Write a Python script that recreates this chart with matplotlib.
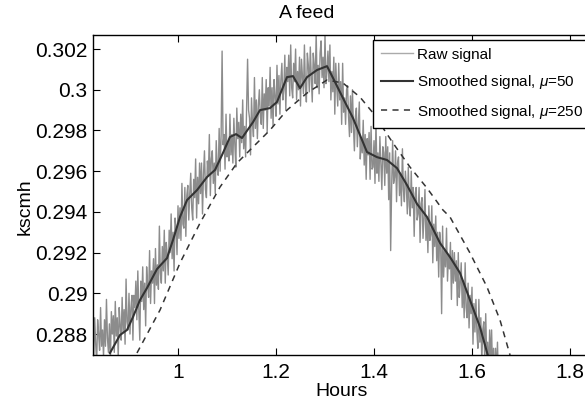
import numpy as np
import matplotlib
matplotlib.use("Agg")
import matplotlib.pyplot as plt

plt.rcParams['font.family'] = ['Liberation Sans', 'DejaVu Sans']
plt.rcParams['mathtext.fontset'] = 'custom'
plt.rcParams['mathtext.it'] = 'Liberation Sans:italic'
plt.rcParams['mathtext.rm'] = 'Liberation Sans'

# ---- data ----
raw_start, raw_step = 0.826, 0.002
raw_kscmh = [
    0.2883, 0.2869, 0.2888, 0.2875, 0.2866, 0.2887, 0.2880, 0.2872, 0.2893, 0.2874,
    0.2882, 0.2869, 0.2887, 0.2874, 0.2897, 0.2878, 0.2871, 0.2885, 0.2866, 0.2891,
    0.2880, 0.2889, 0.2871, 0.2896, 0.2879, 0.2888, 0.2868, 0.2893, 0.2884, 0.2877,
    0.2898, 0.2881, 0.2892, 0.2875, 0.2907, 0.2886, 0.2882, 0.2900, 0.2880, 0.2893,
    0.2899, 0.2877, 0.2899, 0.2893, 0.2906, 0.2887, 0.2911, 0.2892, 0.2877, 0.2906,
    0.2896, 0.2913, 0.2892, 0.2905, 0.2884, 0.2913, 0.2904, 0.2898, 0.2921, 0.2895,
    0.2911, 0.2905, 0.2917, 0.2895, 0.2922, 0.2904, 0.2914, 0.2902, 0.2933, 0.2910,
    0.2905, 0.2923, 0.2911, 0.2931, 0.2905, 0.2925, 0.2919, 0.2909, 0.2931, 0.2920,
    0.2939, 0.2917, 0.2930, 0.2911, 0.2937, 0.2932, 0.2919, 0.2943, 0.2927, 0.2942,
    0.2926, 0.2954, 0.2934, 0.2932, 0.2952, 0.2928, 0.2948, 0.2953, 0.2936, 0.2949,
    0.2959, 0.2942, 0.2936, 0.2956, 0.2947, 0.2966, 0.2937, 0.2957, 0.2944, 0.2964,
    0.2949, 0.2964, 0.2939, 0.2958, 0.2970, 0.2951, 0.2947, 0.2965, 0.2958, 0.2978,
    0.2948, 0.2966, 0.2970, 0.2954, 0.2964, 0.2949, 0.2975, 0.2961, 0.2958, 0.2981,
    0.2960, 0.2978, 0.3019, 0.2973, 0.2978, 0.2961, 0.2988, 0.2967, 0.2974, 0.2965,
    0.2988, 0.2968, 0.2978, 0.2964, 0.2986, 0.2973, 0.2962, 0.2991, 0.2976, 0.2984,
    0.2967, 0.2988, 0.2974, 0.2995, 0.2971, 0.2982, 0.2967, 0.2992, 0.3015, 0.2990,
    0.2986, 0.2968, 0.2996, 0.2984, 0.2977, 0.3006, 0.2981, 0.2995, 0.2976, 0.2992,
    0.3000, 0.2987, 0.2983, 0.3006, 0.2981, 0.2998, 0.2990, 0.3005, 0.2979, 0.3001,
    0.2992, 0.3011, 0.2986, 0.3001, 0.2982, 0.3005, 0.2997, 0.2987, 0.3012, 0.2993,
    0.3007, 0.2988, 0.3005, 0.3013, 0.2995, 0.3000, 0.3017, 0.2990, 0.3011, 0.3004,
    0.3017, 0.2997, 0.3022, 0.3001, 0.2996, 0.3013, 0.3004, 0.3020, 0.2995, 0.3009,
    0.3000, 0.3016, 0.2992, 0.3015, 0.3006, 0.2998, 0.3022, 0.3002, 0.2994, 0.3018,
    0.3012, 0.2999, 0.3021, 0.3006, 0.2994, 0.3018, 0.3012, 0.3003, 0.3028, 0.3001,
    0.3012, 0.2998, 0.3018, 0.3024, 0.3006, 0.3016, 0.3001, 0.3027, 0.3003, 0.3009,
    0.3019, 0.3004, 0.3022, 0.2995, 0.3009, 0.2999, 0.3016, 0.2988, 0.3013, 0.3001,
    0.2992, 0.3013, 0.2995, 0.3004, 0.2983, 0.3013, 0.2989, 0.2996, 0.2983, 0.3000,
    0.3002, 0.2987, 0.2977, 0.2997, 0.2979, 0.3000, 0.2982, 0.2970, 0.2987, 0.2991,
    0.2972, 0.2983, 0.2994, 0.2966, 0.2976, 0.2969, 0.2985, 0.2963, 0.2978, 0.2956,
    0.2976, 0.2968, 0.2979, 0.2956, 0.2982, 0.2961, 0.2962, 0.2975, 0.2954, 0.2985,
    0.2959, 0.2969, 0.2955, 0.2977, 0.2964, 0.2951, 0.2972, 0.2969, 0.2953, 0.2977,
    0.2959, 0.2972, 0.2946, 0.2969, 0.2921, 0.2952, 0.2975, 0.2954, 0.2957, 0.2970,
    0.2945, 0.2964, 0.2967, 0.2948, 0.2959, 0.2943, 0.2971, 0.2951, 0.2945, 0.2960,
    0.2953, 0.2939, 0.2962, 0.2943, 0.2938, 0.2960, 0.2942, 0.2952, 0.2928, 0.2949,
    0.2952, 0.2936, 0.2939, 0.2952, 0.2925, 0.2944, 0.2947, 0.2927, 0.2937, 0.2951,
    0.2926, 0.2937, 0.2920, 0.2943, 0.2926, 0.2929, 0.2943, 0.2915, 0.2934, 0.2923,
    0.2938, 0.2916, 0.2930, 0.2908, 0.2930, 0.2925, 0.2890, 0.2933, 0.2908, 0.2921,
    0.2913, 0.2932, 0.2906, 0.2919, 0.2912, 0.2925, 0.2897, 0.2921, 0.2905, 0.2920,
    0.2906, 0.2916, 0.2894, 0.2920, 0.2898, 0.2905, 0.2915, 0.2893, 0.2906, 0.2888,
    0.2915, 0.2893, 0.2888, 0.2905, 0.2883, 0.2899, 0.2890, 0.2903, 0.2875, 0.2895,
    0.2881, 0.2897, 0.2881, 0.2873, 0.2897, 0.2876, 0.2888, 0.2867, 0.2882, 0.2886,
    0.2867, 0.2890, 0.2868, 0.2876, 0.2860, 0.2882, 0.2867, 0.2882, 0.2861, 0.2873,
    0.2855, 0.2873, 0.2861, 0.2876, 0.2856,
]

smooth50_hours = [0.8612, 0.8816, 0.8959, 0.9082, 0.9224, 0.9367, 0.9571, 0.9776, 0.9898,
                  1.0041, 1.0184, 1.0388, 1.0592, 1.0755, 1.0898, 1.1061, 1.1184, 1.1306,
                  1.1531, 1.1673, 1.1878, 1.2020, 1.2224, 1.2347, 1.2490, 1.2633, 1.2837,
                  1.3041, 1.3163, 1.3367, 1.3571, 1.3857, 1.4061, 1.4265, 1.4469, 1.4673,
                  1.4878, 1.5082, 1.5347, 1.5551, 1.5755, 1.5959, 1.6163, 1.6265, 1.6327]
smooth50_kscmh = [0.28707, 0.28795, 0.28820, 0.28884, 0.28967, 0.29026, 0.29119, 0.29173, 0.29262,
                  0.29375, 0.29458, 0.29507, 0.29571, 0.29606, 0.29679, 0.29768, 0.29782, 0.29763,
                  0.29841, 0.29900, 0.29910, 0.29940, 0.30062, 0.30067, 0.30008, 0.30062, 0.30097,
                  0.30116, 0.30058, 0.29959, 0.29861, 0.29694, 0.29669, 0.29655, 0.29615, 0.29532,
                  0.29439, 0.29375, 0.29247, 0.29178, 0.29100, 0.28967, 0.28834, 0.28746, 0.28692]

smooth250_hours = [0.9163, 0.9633, 1.0041, 1.0449, 1.0857, 1.1204, 1.1531, 1.1878, 1.2224,
                   1.2633, 1.3041, 1.3367, 1.3714, 1.3980, 1.4388, 1.4735, 1.5082, 1.5408,
                   1.5551, 1.5959, 1.6306, 1.6571, 1.6776]
smooth250_kscmh = [0.28707, 0.28918, 0.29149, 0.29345, 0.29522, 0.29640, 0.29719, 0.29802, 0.29900,
                   0.29984, 0.30048, 0.30033, 0.29964, 0.29886, 0.29738, 0.29620, 0.29517, 0.29409,
                   0.29375, 0.29198, 0.29031, 0.28869, 0.28697]

x_ticks = [1.0, 1.2, 1.4, 1.6, 1.8]
x_tick_labels = ['1', '1.2', '1.4', '1.6', '1.8']
y_ticks = [0.288, 0.290, 0.292, 0.294, 0.296, 0.298, 0.300, 0.302]
y_tick_labels = ['0.288', '0.29', '0.292', '0.294', '0.296', '0.298', '0.3', '0.302']
legend_labels = ['Raw signal', r'Smoothed signal, $\mu$=50', r'Smoothed signal, $\mu$=250']

raw_hours = raw_start + raw_step * np.arange(len(raw_kscmh))

# ---- figure ----
W, H = 585, 404
fig = plt.figure(figsize=(W / 100, H / 100), dpi=100)
L, R, T, B = 93, 593, 35, 355
ax = fig.add_axes([L / W, (H - B) / H, (R - L) / W, (B - T) / H])

ax.plot(raw_hours, raw_kscmh, color='#8c8c8c', lw=1.0, label=legend_labels[0])
ax.plot(smooth50_hours, smooth50_kscmh, color='#333333', lw=1.5, label=legend_labels[1])
ax.plot(smooth250_hours, smooth250_kscmh, color='#333333', lw=1.1, ls=(0, (4, 3.5)),
        label=legend_labels[2])

ax.set_xlim(0.82653, 1.8 + (R - 570) / 490)
ax.set_ylim(0.28697, 0.30269)
ax.set_xticks(x_ticks)
ax.set_xticklabels(x_tick_labels)
ax.set_yticks(y_ticks)
ax.set_yticklabels(y_tick_labels)
ax.tick_params(direction='in', length=5, width=0.8, top=True, right=True,
               labelsize=15, pad=4, colors='black')
ax.tick_params(axis='x', pad=6)
for s in ax.spines.values():
    s.set_linewidth(1.0)
    s.set_color('black')

lx0 = (373 - L) / (R - L)
lx1 = (605 - L) / (R - L)
ly1 = (B - 40) / (B - T)
leg = ax.legend(loc='upper left', bbox_to_anchor=(lx0, ly1 - 0.3, lx1 - lx0, 0.3), mode='expand',
                borderaxespad=0, fontsize=11, frameon=True, fancybox=False, framealpha=1,
                edgecolor='black', labelspacing=0.75, handlelength=2.1, handletextpad=0.3,
                borderpad=0.5)
leg.get_frame().set_linewidth(1.0)
leg.get_lines()[0].set_color('#aaaaaa')

fig.text(307 / W, 1 - 13 / H, 'A feed', ha='center', va='center', fontsize=14)
fig.text(342 / W, 1 - 392 / H, 'Hours', ha='center', va='center', fontsize=14)
fig.text(25 / W, 1 - 207 / H, 'kscmh', ha='center', va='center', rotation=90, fontsize=14)

fig.savefig('out.png', dpi=100)
